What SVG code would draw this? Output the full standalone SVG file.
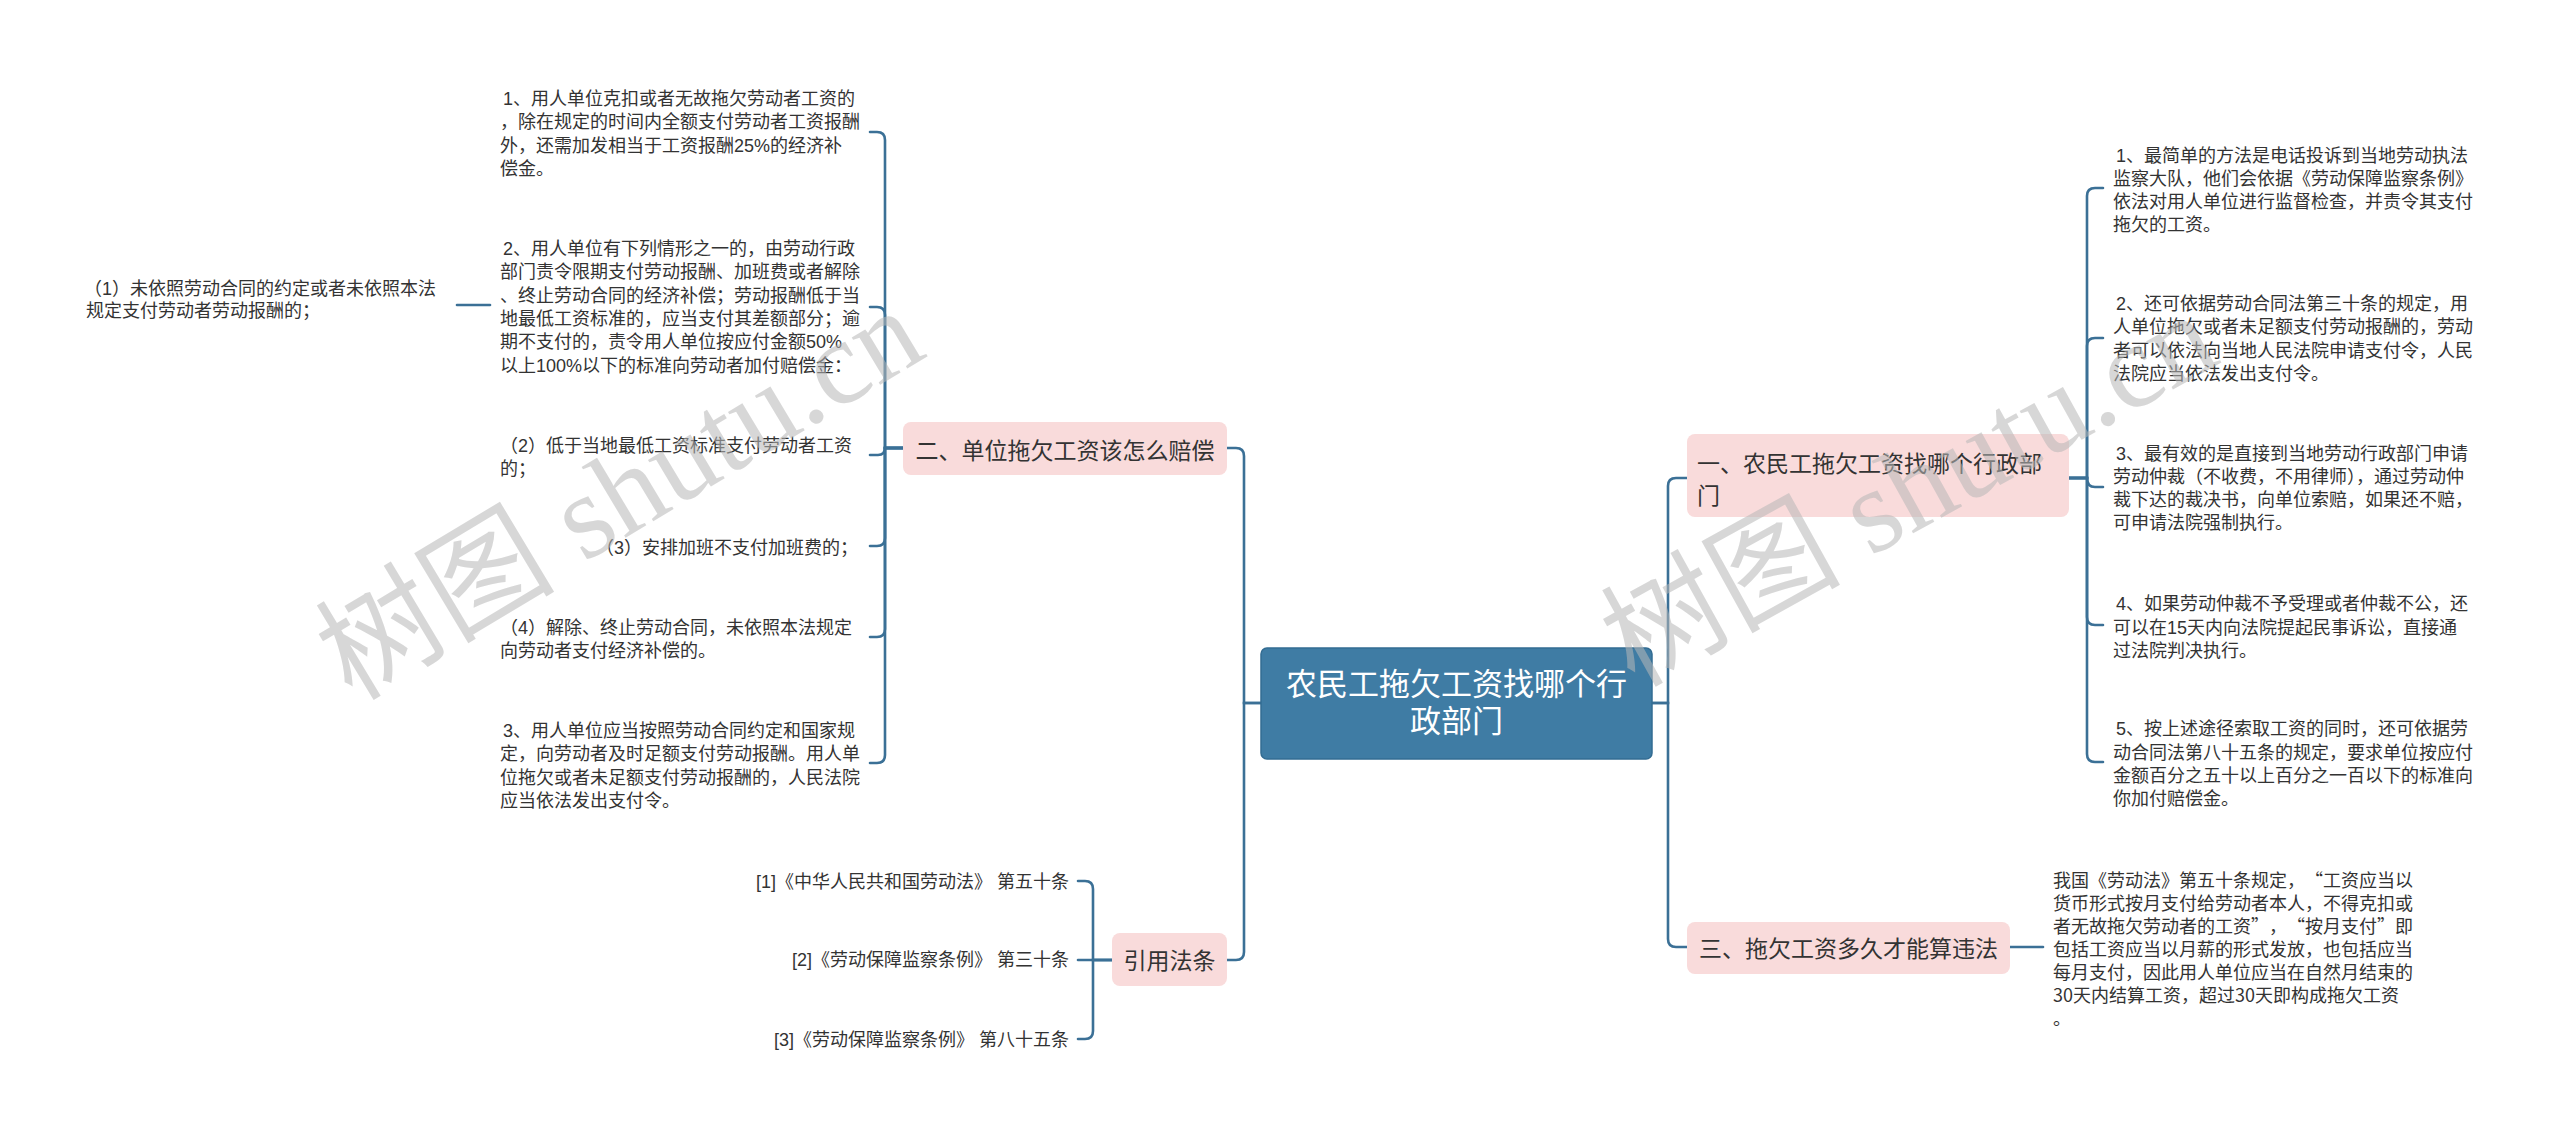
<svg xmlns="http://www.w3.org/2000/svg" width="2560" height="1137" viewBox="0 0 2560 1137">
<style>
.t{font-family:'Liberation Sans','Noto Sans CJK SC',sans-serif;font-size:18px;fill:#333}
.q{font-family:'Noto Sans CJK SC','Liberation Sans',sans-serif;font-size:18px;fill:#333}
.n{font-family:'Liberation Sans','Noto Sans CJK SC',sans-serif;font-size:23px;fill:#333}
.c{font-family:'Liberation Sans','Noto Sans CJK SC',sans-serif;font-size:31px;fill:#fff}
.box{fill:#f9dbdb}
.ln{fill:none;stroke:#3b7096;stroke-width:2.6;stroke-linecap:round}
.wm{font-family:'Liberation Serif','Noto Sans CJK SC',serif;font-size:120px;fill:#b8b8b8;opacity:0.55}
</style>
<rect width="2560" height="1137" fill="#fff"/>
<g id="connectors">
<path class="ln" d="M1261 703 H1244 V456 Q1244 448 1236 448 H1227"/>
<path class="ln" d="M1261 703 H1244 V952 Q1244 960 1236 960 H1227"/>
<path class="ln" d="M1652 703 H1668 V486 Q1668 478 1676 478 H1687"/>
<path class="ln" d="M1652 703 H1668 V939 Q1668 947 1676 947 H1687"/>
<path class="ln" d="M903 448 H885 V140 Q885 132 877 132 H870"/>
<path class="ln" d="M903 448 H885 V315 Q885 307 877 307 H870"/>
<path class="ln" d="M903 448 H885 Q885 455 878 455 H870"/>
<path class="ln" d="M903 448 H885 V538 Q885 546 877 546 H870"/>
<path class="ln" d="M903 448 H885 V629 Q885 637 877 637 H870"/>
<path class="ln" d="M903 448 H885 V755 Q885 763 877 763 H870"/>
<path class="ln" d="M490 305 H457"/>
<path class="ln" d="M1112 960 H1093 V889 Q1093 881 1085 881 H1078"/>
<path class="ln" d="M1112 960 H1078"/>
<path class="ln" d="M1112 960 H1093 V1031 Q1093 1039 1085 1039 H1078"/>
<path class="ln" d="M2069 478 H2087 V196 Q2087 188 2095 188 H2103"/>
<path class="ln" d="M2069 478 H2087 V346 Q2087 338 2095 338 H2103"/>
<path class="ln" d="M2069 478 H2087 Q2087 487 2095 487 H2103"/>
<path class="ln" d="M2069 478 H2087 V617 Q2087 625 2095 625 H2103"/>
<path class="ln" d="M2069 478 H2087 V754 Q2087 762 2095 762 H2103"/>
<path class="ln" d="M2010 947 H2043"/>
</g>
<g id="central">
<rect x="1261" y="648" width="391" height="111" rx="6" fill="#3f7ca4" stroke="#336c92" stroke-width="1.5"/>
<text class="c" text-anchor="middle" x="1456.5" y="695">农民工拖欠工资找哪个行</text>
<text class="c" text-anchor="middle" x="1456.5" y="732">政部门</text>
</g>
<g id="node-er">
<rect class="box" x="903" y="422" width="324" height="53" rx="8"/>
<text class="n" text-anchor="middle" x="1065" y="459">二、单位拖欠工资该怎么赔偿</text>
</g>
<g id="node-yinyong">
<rect class="box" x="1112" y="933" width="115" height="53" rx="8"/>
<text class="n" text-anchor="middle" x="1169.5" y="969">引用法条</text>
</g>
<g id="node-yi">
<rect class="box" x="1687" y="434" width="382" height="83" rx="8"/>
<text class="n" x="1697" y="472">一、农民工拖欠工资找哪个行政部</text>
<text class="n" x="1697" y="504">门</text>
</g>
<g id="node-san">
<rect class="box" x="1687" y="922" width="323" height="52" rx="8"/>
<text class="n" text-anchor="middle" x="1848.5" y="957">三、拖欠工资多久才能算违法</text>
</g>
<g id="leaf-l1">
<text class="t" x="503" y="105">1、用人单位克扣或者无故拖欠劳动者工资的</text>
<text class="t" x="500" y="128.3">，除在规定的时间内全额支付劳动者工资报酬</text>
<text class="t" x="500" y="151.6">外，还需加发相当于工资报酬25%的经济补</text>
<text class="t" x="500" y="175">偿金。</text>
</g>
<g id="leaf-l2">
<text class="t" x="503" y="255">2、用人单位有下列情形之一的，由劳动行政</text>
<text class="t" x="500" y="278.3">部门责令限期支付劳动报酬、加班费或者解除</text>
<text class="t" x="500" y="301.6">、终止劳动合同的经济补偿；劳动报酬低于当</text>
<text class="t" x="500" y="325">地最低工资标准的，应当支付其差额部分；逾</text>
<text class="t" x="500" y="348.3">期不支付的，责令用人单位按应付金额50%</text>
<text class="t" x="500" y="371.6">以上100%以下的标准向劳动者加付赔偿金：</text>
</g>
<g id="leaf-p1">
<text class="t" x="84" y="295">（1）未依照劳动合同的约定或者未依照本法</text>
<text class="t" x="86" y="317">规定支付劳动者劳动报酬的；</text>
</g>
<g id="leaf-p2">
<text class="t" x="500" y="452">（2）低于当地最低工资标准支付劳动者工资</text>
<text class="t" x="500" y="475">的；</text>
</g>
<g id="leaf-p3">
<text class="t" text-anchor="end" x="858" y="554">（3）安排加班不支付加班费的；</text>
</g>
<g id="leaf-p4">
<text class="t" x="500" y="634">（4）解除、终止劳动合同，未依照本法规定</text>
<text class="t" x="500" y="657">向劳动者支付经济补偿的。</text>
</g>
<g id="leaf-l3">
<text class="t" x="503" y="737">3、用人单位应当按照劳动合同约定和国家规</text>
<text class="t" x="500" y="760">定，向劳动者及时足额支付劳动报酬。用人单</text>
<text class="t" x="500" y="784">位拖欠或者未足额支付劳动报酬的，人民法院</text>
<text class="t" x="500" y="807">应当依法发出支付令。</text>
</g>
<g id="refs">
<text class="t" text-anchor="end" x="1069" y="888">[1]《中华人民共和国劳动法》 第五十条</text>
<text class="t" text-anchor="end" x="1069" y="966">[2]《劳动保障监察条例》 第三十条</text>
<text class="t" text-anchor="end" x="1069" y="1046">[3]《劳动保障监察条例》 第八十五条</text>
</g>
<g id="leaf-r1">
<text class="t" x="2116" y="162">1、最简单的方法是电话投诉到当地劳动执法</text>
<text class="t" x="2113" y="185">监察大队，他们会依据《劳动保障监察条例》</text>
<text class="t" x="2113" y="208">依法对用人单位进行监督检查，并责令其支付</text>
<text class="t" x="2113" y="231">拖欠的工资。</text>
</g>
<g id="leaf-r2">
<text class="t" x="2116" y="310">2、还可依据劳动合同法第三十条的规定，用</text>
<text class="t" x="2113" y="333">人单位拖欠或者未足额支付劳动报酬的，劳动</text>
<text class="t" x="2113" y="357">者可以依法向当地人民法院申请支付令，人民</text>
<text class="t" x="2113" y="380">法院应当依法发出支付令。</text>
</g>
<g id="leaf-r3">
<text class="t" x="2116" y="460">3、最有效的是直接到当地劳动行政部门申请</text>
<text class="t" x="2113" y="483">劳动仲裁（不收费，不用律师），通过劳动仲</text>
<text class="t" x="2113" y="506">裁下达的裁决书，向单位索赔，如果还不赔，</text>
<text class="t" x="2113" y="529">可申请法院强制执行。</text>
</g>
<g id="leaf-r4">
<text class="t" x="2116" y="610">4、如果劳动仲裁不予受理或者仲裁不公，还</text>
<text class="t" x="2113" y="634">可以在15天内向法院提起民事诉讼，直接通</text>
<text class="t" x="2113" y="657">过法院判决执行。</text>
</g>
<g id="leaf-r5">
<text class="t" x="2116" y="735">5、按上述途径索取工资的同时，还可依据劳</text>
<text class="t" x="2113" y="759">动合同法第八十五条的规定，要求单位按应付</text>
<text class="t" x="2113" y="782">金额百分之五十以上百分之一百以下的标准向</text>
<text class="t" x="2113" y="805">你加付赔偿金。</text>
</g>
<g id="leaf-san">
<text class="q" x="2053" y="887">我国《劳动法》第五十条规定，<tspan x="2305">“</tspan><tspan x="2323">工资应当以</tspan></text>
<text class="q" x="2053" y="910">货币形式按月支付给劳动者本人，不得克扣或</text>
<text class="q" x="2053" y="933">者无故拖欠劳动者的工资<tspan x="2251">”</tspan><tspan x="2269">，</tspan><tspan x="2287">“</tspan><tspan x="2305">按月支付</tspan><tspan x="2377">”</tspan><tspan x="2395">即</tspan></text>
<text class="q" x="2053" y="956">包括工资应当以月薪的形式发放，也包括应当</text>
<text class="q" x="2053" y="979">每月支付，因此用人单位应当在自然月结束的</text>
<text class="q" x="2053" y="1002">30天内结算工资，超过30天即构成拖欠工资</text>
<text class="q" x="2053" y="1025">。</text>
</g>
<g id="watermarks">
<text class="wm" transform="translate(352 702) rotate(-31)">树图 shutu.cn</text>
<text class="wm" transform="translate(1634 688) rotate(-29)">树图 shutu.cn</text>
</g>
</svg>
